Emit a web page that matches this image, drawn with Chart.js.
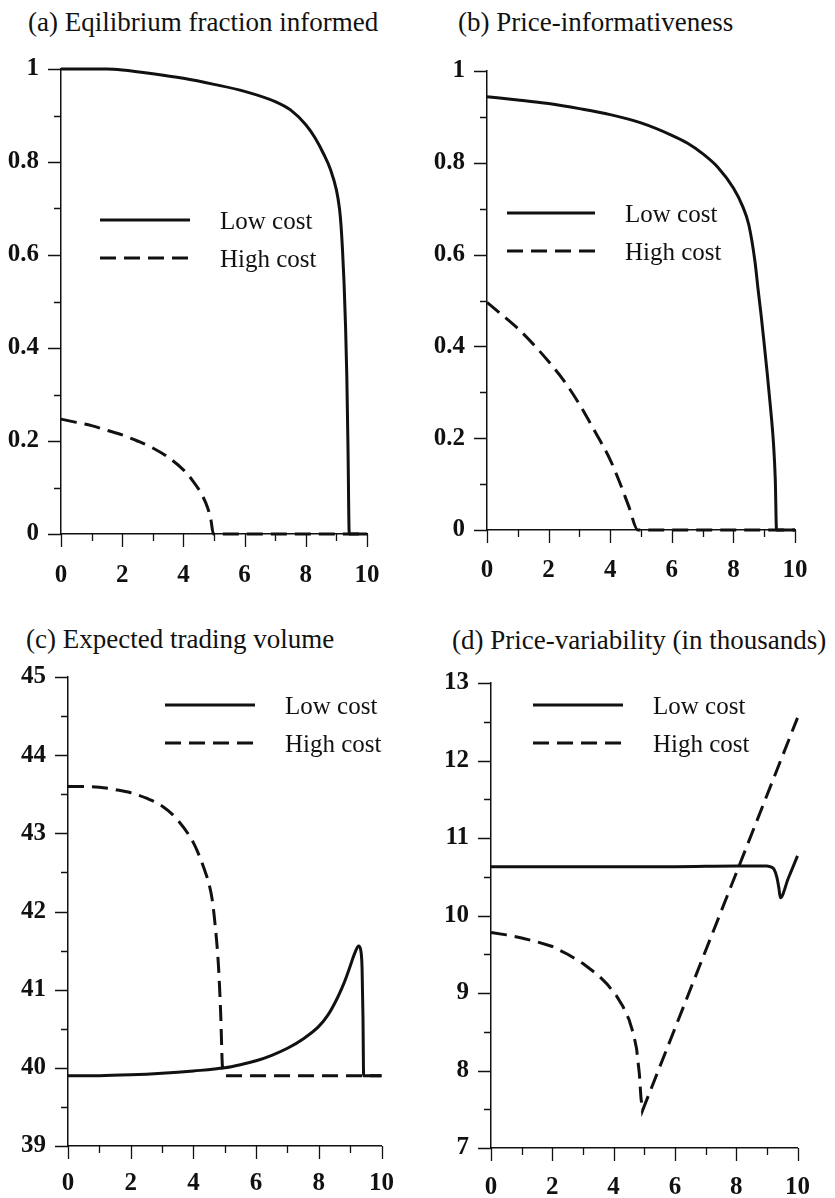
<!DOCTYPE html>
<html lang="en">
<head>
<meta charset="UTF-8">
<title>Costly information panels</title>
<script src="https://cdn.jsdelivr.net/npm/chart.js@4.4.1/dist/chart.umd.min.js"></script>
<style>
  body { margin: 0; background: #fff; }
  .page { position: relative; width: 835px; height: 1198px; }
  .panel { position: absolute; }
  .title {
    position: absolute;
    font-family: "Liberation Serif", "Times New Roman", serif;
    font-size: 27px;
    line-height: 30px;
    white-space: nowrap;
    color: #111;
  }
</style>
</head>
<body>
<div class="page">
  <div class="title" style="left:28px; top:7px">(a) Eqilibrium fraction informed</div>
  <div class="title" style="left:458px; top:7px">(b) Price-informativeness</div>
  <div class="title" style="left:26px; top:624px">(c) Expected trading volume</div>
  <div class="title" style="left:452px; top:625px">(d) Price-variability (in thousands)</div>
  <canvas class="panel" id="chartA" width="417" height="599" style="left:0; top:0"></canvas>
  <canvas class="panel" id="chartB" width="418" height="599" style="left:417px; top:0"></canvas>
  <canvas class="panel" id="chartC" width="417" height="599" style="left:0; top:599px"></canvas>
  <canvas class="panel" id="chartD" width="418" height="599" style="left:417px; top:599px"></canvas>
</div>
<script>
const seriesNames = ['Low cost', 'High cost'];
const xTicks = [0, 2, 4, 6, 8, 10];
const yTicksAB = [0, 0.2, 0.4, 0.6, 0.8, 1];
const yTicksC = [39, 40, 41, 42, 43, 44, 45];
const yTicksD = [7, 8, 9, 10, 11, 12, 13];

// (a) equilibrium fraction informed
const aLowX = [0, 1, 1.5, 2, 3, 4, 5, 6, 7, 7.5, 8, 8.3, 8.6, 8.8, 9, 9.1, 9.15, 9.2, 9.25, 9.3, 9.34, 9.38, 9.42, 10];
const aLowY = [1, 1, 1, 0.998, 0.99, 0.98, 0.967, 0.952, 0.93, 0.912, 0.88, 0.852, 0.815, 0.785, 0.74, 0.7, 0.665, 0.61, 0.54, 0.445, 0.34, 0.18, 0, 0];
const aHighX = [0, 0.5, 1, 1.5, 2, 2.5, 3, 3.5, 4, 4.3, 4.6, 4.8, 4.9, 4.98, 10];
const aHighY = [0.247, 0.24, 0.233, 0.223, 0.213, 0.2, 0.185, 0.165, 0.138, 0.115, 0.085, 0.055, 0.03, 0, 0];

// (b) price informativeness
const bLowX = [0, 1, 2, 3, 4, 5, 6, 6.5, 7, 7.5, 8, 8.3, 8.5, 8.7, 8.8, 8.9, 9, 9.1, 9.2, 9.3, 9.36, 9.4, 10];
const bLowY = [0.944, 0.937, 0.929, 0.918, 0.905, 0.887, 0.86, 0.843, 0.82, 0.79, 0.745, 0.705, 0.665, 0.585, 0.525, 0.468, 0.405, 0.34, 0.27, 0.19, 0.11, 0, 0];
const bHighX = [0, 0.5, 1, 1.5, 2, 2.5, 3, 3.5, 4, 4.3, 4.6, 4.9, 10];
const bHighY = [0.496, 0.468, 0.439, 0.405, 0.367, 0.325, 0.274, 0.215, 0.153, 0.105, 0.052, 0, 0];

// (c) expected trading volume
const cLowX = [0, 1, 2, 3, 4, 5, 5.5, 6, 6.5, 7, 7.5, 8, 8.3, 8.6, 8.8, 9, 9.15, 9.27, 9.34, 9.38, 9.41, 9.43, 10];
const cLowY = [39.9, 39.9, 39.91, 39.93, 39.96, 40.0, 40.04, 40.09, 40.16, 40.25, 40.37, 40.53, 40.68, 40.9, 41.08, 41.3, 41.47, 41.56, 41.5, 41.28, 40.63, 39.9, 39.9];
const cHighX = [0, 0.5, 1, 1.5, 2, 2.5, 3, 3.5, 4, 4.2, 4.4, 4.5, 4.6, 4.7, 4.8, 4.87, 4.93, 5.04, 10];
const cHighY = [43.6, 43.6, 43.59, 43.56, 43.52, 43.45, 43.35, 43.17, 42.88, 42.7, 42.48, 42.35, 42.15, 41.8, 41.3, 40.7, 40.0, 39.9, 39.9];

// (d) price variability, thousands
const dLowX = [0, 2, 4, 6, 8, 9, 9.1, 9.23, 9.33, 9.39, 9.44, 9.7, 10];
const dLowY = [10.63, 10.63, 10.63, 10.63, 10.64, 10.64, 10.63, 10.6, 10.49, 10.36, 10.23, 10.48, 10.77];
const dHighX = [0, 0.5, 1, 1.5, 2, 2.5, 3, 3.5, 3.8, 4.1, 4.3, 4.5, 4.65, 4.75, 4.84, 4.89, 4.94, 10];
const dHighY = [9.78, 9.75, 9.71, 9.66, 9.6, 9.5, 9.38, 9.23, 9.11, 8.96, 8.83, 8.66, 8.47, 8.28, 7.96, 7.66, 7.48, 12.55];

const ink = '#111';
const serif = '"Liberation Serif", "Times New Roman", serif';

function pts(xs, ys) {
  return xs.map((x, i) => ({ x: x, y: ys[i] }));
}

// short tick marks outside the axes, longer at labelled values
const axisMarks = {
  id: 'axisMarks',
  afterDraw(chart, args, opts) {
    const { ctx, chartArea, scales } = chart;
    const xs = scales.x, ys = scales.y;
    ctx.save();
    ctx.strokeStyle = ink;
    ctx.lineWidth = 1.3;
    ctx.beginPath();
    for (let i = 0; ; i++) {
      const v = xs.min + i * opts.xStep;
      if (v > xs.max + 1e-9) break;
      const px = Math.round(xs.getPixelForValue(v)) + 0.5;
      const major = xTicks.some(t => Math.abs(t - v) < 1e-6);
      ctx.moveTo(px, chartArea.bottom);
      ctx.lineTo(px, chartArea.bottom + (major ? 13 : 7));
    }
    for (let i = 0; ; i++) {
      const v = ys.min + i * opts.yStep;
      if (v > ys.max + 1e-9) break;
      const py = Math.round(ys.getPixelForValue(v)) + 0.5;
      const major = opts.yTicks.some(t => Math.abs(t - v) < 1e-6);
      ctx.moveTo(chartArea.left, py);
      ctx.lineTo(chartArea.left - (major ? 13 : 7), py);
    }
    ctx.stroke();
    ctx.restore();
  }
};

// legend drawn inside the plot area
const innerLegend = {
  id: 'innerLegend',
  afterDatasetsDraw(chart, args, opts) {
    const { ctx, chartArea } = chart;
    chart.data.datasets.forEach((ds, i) => {
      const x0 = chartArea.left + opts.left;
      const y0 = chartArea.top + opts.top + i * opts.row;
      ctx.save();
      ctx.strokeStyle = ds.borderColor;
      ctx.lineWidth = ds.borderWidth;
      ctx.setLineDash(ds.borderDash || []);
      ctx.beginPath();
      ctx.moveTo(x0, y0);
      ctx.lineTo(x0 + opts.len, y0);
      ctx.stroke();
      ctx.setLineDash([]);
      ctx.fillStyle = ink;
      ctx.font = '25px ' + serif;
      ctx.textBaseline = 'alphabetic';
      ctx.fillText(ds.label, x0 + opts.len + 30, y0 + 9);
      ctx.restore();
    });
  }
};

function makePanel(id, c) {
  const tickFont = { family: serif, size: 25, weight: 'bold' };
  return new Chart(document.getElementById(id), {
    type: 'line',
    data: {
      datasets: [
        {
          label: seriesNames[0],
          data: pts(c.lowX, c.lowY),
          borderColor: ink,
          borderWidth: 3,
          pointRadius: 0,
          cubicInterpolationMode: 'monotone',
          clip: false
        },
        {
          label: seriesNames[1],
          data: pts(c.highX, c.highY),
          borderColor: ink,
          borderWidth: 3,
          borderDash: [16, 8],
          pointRadius: 0,
          cubicInterpolationMode: c.highSharp ? 'default' : 'monotone',
          tension: 0,
          clip: false
        }
      ]
    },
    options: {
      responsive: false,
      animation: false,
      layout: { padding: { top: c.padTop, right: c.padRight, bottom: 0, left: 0 } },
      plugins: {
        legend: { display: false },
        tooltip: { enabled: false },
        axisMarks: { xStep: 1, yStep: c.yStep, yTicks: c.yTicks },
        innerLegend: c.legend
      },
      scales: {
        x: {
          type: 'linear',
          min: 0,
          max: 10,
          afterBuildTicks: s => { s.ticks = xTicks.map(v => ({ value: v })); },
          afterFit: s => { s.height = c.xHeight; },
          grid: { display: false, drawTicks: false },
          border: { display: true, color: ink, width: 1.5 },
          ticks: { color: ink, font: tickFont, padding: c.xPad, maxRotation: 0, autoSkip: false }
        },
        y: {
          type: 'linear',
          min: c.yTicks[0],
          max: c.yTicks[c.yTicks.length - 1],
          afterBuildTicks: s => { s.ticks = c.yTicks.map(v => ({ value: v })); },
          afterFit: s => { s.width = c.yWidth; },
          grid: { display: false, drawTicks: false },
          border: { display: true, color: ink, width: 1.5 },
          ticks: { color: ink, font: tickFont, padding: 22, autoSkip: false, callback: v => String(v) }
        }
      }
    },
    plugins: [axisMarks, innerLegend]
  });
}

makePanel('chartA', {
  lowX: aLowX, lowY: aLowY, highX: aHighX, highY: aHighY,
  yTicks: yTicksAB, yStep: 0.1, xPad: 27,
  yWidth: 61, xHeight: 65, padTop: 69, padRight: 50,
  legend: { left: 39, top: 151, row: 38, len: 90 }
});
makePanel('chartB', {
  lowX: bLowX, lowY: bLowY, highX: bHighX, highY: bHighY,
  yTicks: yTicksAB, yStep: 0.1, xPad: 26,
  yWidth: 70, xHeight: 69, padTop: 71, padRight: 40,
  legend: { left: 20, top: 142, row: 38, len: 88 }
});
makePanel('chartC', {
  lowX: cLowX, lowY: cLowY, highX: cHighX, highY: cHighY,
  yTicks: yTicksC, yStep: 0.5, xPad: 23,
  yWidth: 68, xHeight: 52, padTop: 78, padRight: 34,
  legend: { left: 97, top: 28, row: 38, len: 90 }
});
makePanel('chartD', {
  lowX: dLowX, lowY: dLowY, highX: dHighX, highY: dHighY, highSharp: true,
  yTicks: yTicksD, yStep: 0.5, xPad: 25,
  yWidth: 74, xHeight: 50, padTop: 84, padRight: 29,
  legend: { left: 42, top: 22, row: 38, len: 90 }
});
</script>
</body>
</html>
